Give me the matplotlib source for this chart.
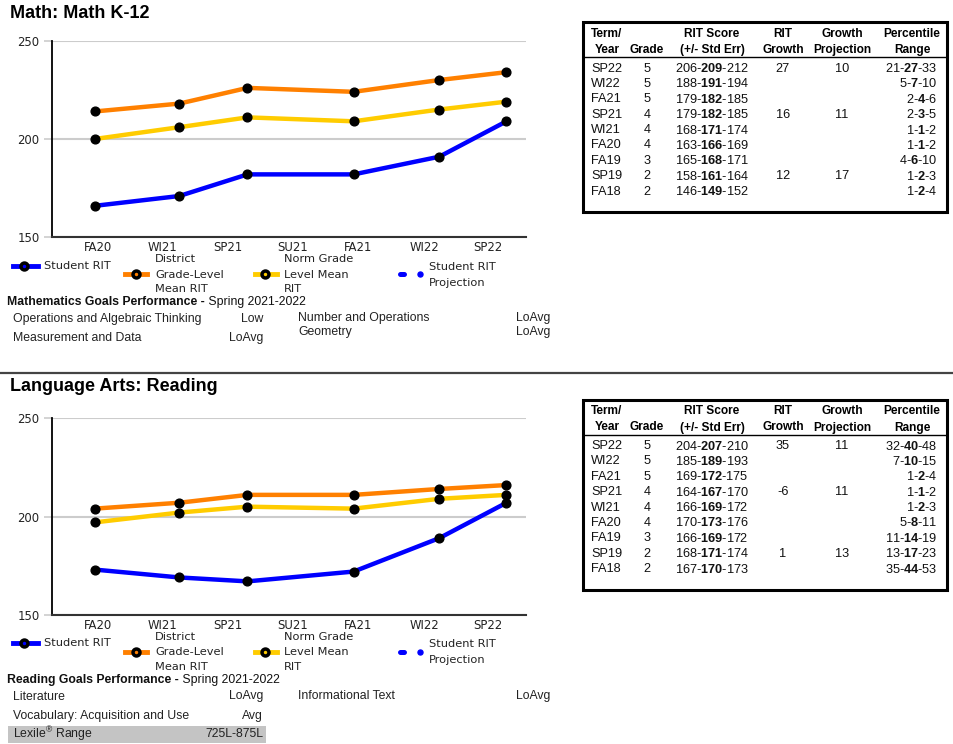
import numpy as np
import matplotlib.pyplot as plt
from matplotlib.patches import Rectangle

plt.rcParams['mathtext.fontset'] = 'custom'
plt.rcParams['mathtext.rm'] = 'Liberation Sans'
plt.rcParams['mathtext.bf'] = 'Liberation Sans:bold'

# -------------------------------
# Data
# -------------------------------
tick_terms = ["FA20", "WI21", "SP21", "SU21", "FA21", "WI22", "SP22"]
tick_month = [0.15, 3.15, 6.15, 9.15, 12.15, 15.2, 18.15]
test_terms = ["FA20", "WI21", "SP21", "FA21", "WI22", "SP22"]
test_month = [0.0, 3.9, 7.05, 11.95, 15.9, 19.0]   # months after the fall 2020 test

math_student = [166, 171, 182, 182, 191, 209]
math_district = [214, 218, 226, 224, 230, 234]
math_norm = [200, 206, 211, 209, 215, 219]

read_student = [173, 169, 167, 172, 189, 207]
read_district = [204, 207, 211, 211, 214, 216]
read_norm = [197, 202, 205, 204, 209, 211]

table_terms = ["SP22", "WI22", "FA21", "SP21", "WI21", "FA20", "FA19", "SP19", "FA18"]

math_grade = [5, 5, 5, 4, 4, 4, 3, 2, 2]
math_rit = [(206, 209, 212), (188, 191, 194), (179, 182, 185), (179, 182, 185),
            (168, 171, 174), (163, 166, 169), (165, 168, 171), (158, 161, 164),
            (146, 149, 152)]
math_growth = ["27", "", "", "16", "", "", "", "12", ""]
math_proj = ["10", "", "", "11", "", "", "", "17", ""]
math_pct = [(21, 27, 33), (5, 7, 10), (2, 4, 6), (2, 3, 5), (1, 1, 2), (1, 1, 2),
            (4, 6, 10), (1, 2, 3), (1, 2, 4)]

read_grade = [5, 5, 5, 4, 4, 4, 3, 2, 2]
read_rit = [(204, 207, 210), (185, 189, 193), (169, 172, 175), (164, 167, 170),
            (166, 169, 172), (170, 173, 176), (166, 169, 172), (168, 171, 174),
            (167, 170, 173)]
read_growth = ["35", "", "", "-6", "", "", "", "1", ""]
read_proj = ["11", "", "", "11", "", "", "", "13", ""]
read_pct = [(32, 40, 48), (7, 10, 15), (1, 2, 4), (1, 1, 2), (1, 2, 3), (5, 8, 11),
            (11, 14, 19), (13, 17, 23), (35, 44, 53)]

math_goals_left = [("Operations and Algebraic Thinking", "Low"), ("Measurement and Data", "LoAvg")]
math_goals_right = [("Number and Operations", "LoAvg"), ("Geometry", "LoAvg")]
read_goals_left = [("Literature", "LoAvg"), ("Vocabulary: Acquisition and Use", "Avg")]
read_goals_right = [("Informational Text", "LoAvg")]
lexile_range = "725L-875L"

BLUE = "#0000ff"
ORANGE = "#ff8000"
YELLOW = "#ffcc00"
ARIAL = "Liberation Sans"

# -------------------------------
# Figure + pixel overlay
# -------------------------------
W, H = 954, 744
fig = plt.figure(figsize=(W / 100, H / 100), dpi=100)
bg = fig.add_axes([0, 0, 1, 1])
bg.set_xlim(0, W)
bg.set_ylim(H, 0)
bg.axis('off')


def px_axes(l, t, r, b):
    return fig.add_axes([l / W, 1 - b / H, (r - l) / W, (b - t) / H])


def draw_chart(y0, student, district, norm):
    ax = px_axes(52, y0 + 40.7, 526, y0 + 237.3)
    for vals, col in [(district, ORANGE), (norm, YELLOW), (student, BLUE)]:
        ax.plot(test_month, vals, color=col, lw=3.2, solid_capstyle='round', zorder=3)
    for vals in [district, norm, student]:
        ax.plot(test_month, vals, 'o', color='black', ms=6.3, zorder=4)
    ax.set_xlim(-1.97, 19.9)
    ax.set_ylim(150, 250)
    ax.set_yticks([150, 200, 250])
    ax.set_xticks(tick_month)
    ax.set_xticklabels(tick_terms)
    ax.grid(axis='y', color='#cccccc', lw=1.5)
    ax.set_axisbelow(True)
    for s in ['top', 'right']:
        ax.spines[s].set_visible(False)
    ax.spines['left'].set_color('black')
    ax.spines['left'].set_linewidth(1.3)
    ax.spines['bottom'].set_color('#333333')
    ax.spines['bottom'].set_linewidth(1.5)
    ax.tick_params(axis='x', length=0, pad=3, labelsize=8.4, colors='#222222')
    ax.tick_params(axis='y', length=6, width=1.2, color='#cccccc', pad=3,
                   labelsize=8.4, labelcolor='#222222')


def draw_legend(y0):
    ya = y0 + 265.7
    yb = y0 + 274
    handles = [(13, 38, 24, ya, BLUE), (125, 147, 136, yb, ORANGE), (255, 277, 265, yb, YELLOW)]
    for x1, x2, xm, y, col in handles:
        bg.plot([x1, x2], [y, y], color=col, lw=3.5)
        bg.plot([xm], [y], 'o', ms=5, mfc=col, mec='black', mew=2.5)
    # projection swatch: a short dash and a dot
    bg.plot([400, 404], [yb, yb], color=BLUE, lw=3.6, solid_capstyle='round')
    bg.plot([420], [yb], 'o', color=BLUE, ms=3.6)
    kw = dict(fontsize=8.2, va='center', color='#222222')
    bg.text(44, ya, "Student RIT", **kw)
    for i, s in enumerate(["District", "Grade-Level", "Mean RIT"]):
        bg.text(155, y0 + 259.5 + i * 15, s, **kw)
    for i, s in enumerate(["Norm Grade", "Level Mean", "RIT"]):
        bg.text(284, y0 + 259.5 + i * 15, s, **kw)
    for i, s in enumerate(["Student RIT", "Projection"]):
        bg.text(429, y0 + 266.5 + i * 16, s, **kw)


def draw_table(y0, grade, rit, growth, proj, pct):
    top, bot = y0 + 22, y0 + 212
    bg.add_patch(Rectangle((583, top), 364, bot - top, fill=False, ec='black', lw=2.2))
    bg.plot([583, 947], [y0 + 57, y0 + 57], color='black', lw=1)
    hk = dict(fontsize=8.6, fontweight='bold', family=ARIAL, ha='center', va='center')
    headers = [(607, "Term/", "Year"), (647, "", "Grade"), (712, "RIT Score", "(+/- Std Err)"),
               (783, "RIT", "Growth"), (842, "Growth", "Projection"), (912, "Percentile", "Range")]
    for x, l1, l2 in headers:
        bg.text(x, y0 + 34, l1, **hk)
        bg.text(x, y0 + 50, l2, **hk)
    dk = dict(fontsize=9.2, family=ARIAL, va='center', color='#111111')
    for i in range(len(table_terms)):
        y = y0 + 68.5 + i * 15.4
        bg.text(591, y, table_terms[i], ha='left', **dk)
        bg.text(647, y, str(grade[i]), ha='center', **dk)
        lo, mid, hi = rit[i]
        bg.text(712, y, f"{lo}-$\\mathbf{{{mid}}}$-{hi}", ha='center', **dk)
        bg.text(783, y, growth[i], ha='center', **dk)
        bg.text(842, y, proj[i], ha='center', **dk)
        lo, mid, hi = pct[i]
        bg.text(937, y, f"{lo}-$\\mathbf{{{mid}}}$-{hi}", ha='right', **dk)


def draw_goals(y0, head, left, right, lexile=None):
    t = bg.text(7, y0 + 302, head + " -", fontsize=8.8, fontweight='bold', family=ARIAL,
                va='center', color='#111111')
    bg.annotate(" Spring 2021-2022", xy=(1, 0.5), xycoords=t, va='center', ha='left',
                fontsize=8.8, family=ARIAL, color='#111111')
    gk = dict(fontsize=8.8, family=ARIAL, va='center', color='#222222')
    ly = [y0 + 319, y0 + 338]
    for (name, lvl), y in zip(left, ly):
        bg.text(13, y, name, ha='left', **gk)
        bg.text(263, y, lvl, ha='right', **gk)
    ry = [y0 + 318.5, y0 + 332.5]
    for (name, lvl), y in zip(right, ry):
        bg.text(298, y, name, ha='left', **gk)
        bg.text(550, y, lvl, ha='right', **gk)
    if lexile is not None:
        y = y0 + 356.5
        bg.add_patch(Rectangle((8, y - 8), 258, 16.5, color='#c4c4c4', lw=0))
        bg.text(13, y, "Lexile$^{\\mathrm{®}}$ Range", ha='left', **gk)
        bg.text(263, y, lexile, ha='right', **gk)


# -------------------------------
# Math section
# -------------------------------
bg.text(10, 14, "Math: Math K-12", fontsize=13, fontweight='bold', family=ARIAL, va='center')
draw_chart(0, math_student, math_district, math_norm)
draw_legend(0)
draw_table(0, math_grade, math_rit, math_growth, math_proj, math_pct)
draw_goals(0, "Mathematics Goals Performance", math_goals_left, math_goals_right)

# separator
bg.plot([0, W], [373, 373], color='#444444', lw=1.6)

# -------------------------------
# Reading section
# -------------------------------
R = 377.5
bg.text(10, R + 9, "Language Arts: Reading", fontsize=13, fontweight='bold', family=ARIAL, va='center')
draw_chart(R, read_student, read_district, read_norm)
draw_legend(R)
draw_table(R, read_grade, read_rit, read_growth, read_proj, read_pct)
draw_goals(R, "Reading Goals Performance", read_goals_left, read_goals_right, lexile_range)

fig.savefig("out.png", dpi=100)
